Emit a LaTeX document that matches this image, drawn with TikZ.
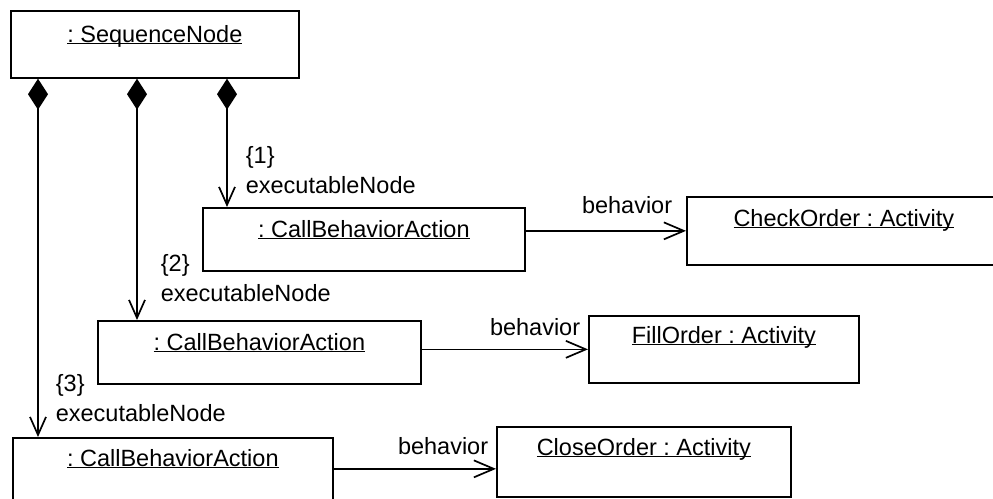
\documentclass[tikz,border=0pt]{standalone}
\usepackage{fontspec}
\setmainfont{Liberation Sans}
\usetikzlibrary{arrows.meta}
\frenchspacing
\newcommand\objname[1]{\underline{\smash{#1}}}
\begin{document}
\begin{tikzpicture}[x=1pt, y=-1pt, line width=1.7pt,
  font=\fontsize{23.5pt}{30pt}\selectfont,
  obj/.style={draw, rectangle, inner sep=0pt, anchor=north west},
  objtext/.style={anchor=base, inner sep=0pt},
  comp/.style={{Diamond[length=31pt,width=20pt]}-{Straight Barb[length=18pt,width=16pt]}},
  assoc/.style={-{Straight Barb[length=20pt,width=17pt]}},
  rolelbl/.style={anchor=south west, inner sep=0pt, align=left},
  behlbl/.style={anchor=base east, inner sep=0pt}]
  \useasboundingbox (0,0) rectangle (993,498);

  % object boxes
  \node[obj, minimum width=288pt, minimum height=67pt] (seq) at (10,10) {};
  \node[obj, minimum width=322pt, minimum height=63pt] (a1) at (202,207) {};
  \node[obj, minimum width=314pt, minimum height=68pt] (c1) at (686,196) {};
  \node[obj, minimum width=323pt, minimum height=63pt] (a2) at (97,320) {};
  \node[obj, minimum width=270pt, minimum height=67pt] (c2) at (588,315) {};
  \node[obj, minimum width=320pt, minimum height=62pt] (a3) at (12,437) {};
  \node[obj, minimum width=294pt, minimum height=70pt] (c3) at (496,426) {};

  % object names
  \node[objtext] (seqt) at ([yshift=-32pt]seq.north) {\objname{: SequenceNode}};
  \node[objtext] (a1t) at ([yshift=-30pt]a1.north) {\objname{: CallBehaviorAction}};
  \node[objtext] (c1t) at ([yshift=-30pt]c1.north) {\objname{CheckOrder : Activity}};
  \node[objtext] (a2t) at ([yshift=-30pt]a2.north) {\objname{: CallBehaviorAction}};
  \node[objtext] (c2t) at ([yshift=-28pt]c2.north) {\objname{FillOrder : Activity}};
  \node[objtext] (a3t) at ([yshift=-29pt]a3.north) {\objname{: CallBehaviorAction}};
  \node[objtext] (c3t) at ([yshift=-29pt]c3.north) {\objname{CloseOrder : Activity}};

  % x positions of the composition links
  \coordinate (x1) at (227,0);
  \coordinate (x2) at (137,0);
  \coordinate (x3) at (38,0);

  % composition links
  \draw[comp] (seq.south -| x1) -- (a1.north -| x1)
    node[rolelbl, xshift=18pt, yshift=12pt] {\{1\}\\executableNode};
  \draw[comp] (seq.south -| x2) -- (a2.north -| x2)
    node[rolelbl, xshift=23pt, yshift=17pt] {\{2\}\\executableNode};
  \draw[comp] (seq.south -| x3) -- (a3.north -| x3)
    node[rolelbl, xshift=17pt, yshift=14pt] {\{3\}\\executableNode};

  % behavior associations
  \draw[assoc] (a1.east |- c1.west) -- (c1.west)
    node[behlbl, xshift=-13pt, yshift=17pt] {behavior};
  \draw[assoc] (a2.east |- c2.west) -- (c2.west)
    node[behlbl, xshift=-7pt, yshift=14pt] {behavior};
  \draw[assoc] (a3.east) -- (a3.east -| c3.west)
    node[behlbl, xshift=-7pt, yshift=14pt] {behavior};
\end{tikzpicture}
\end{document}
